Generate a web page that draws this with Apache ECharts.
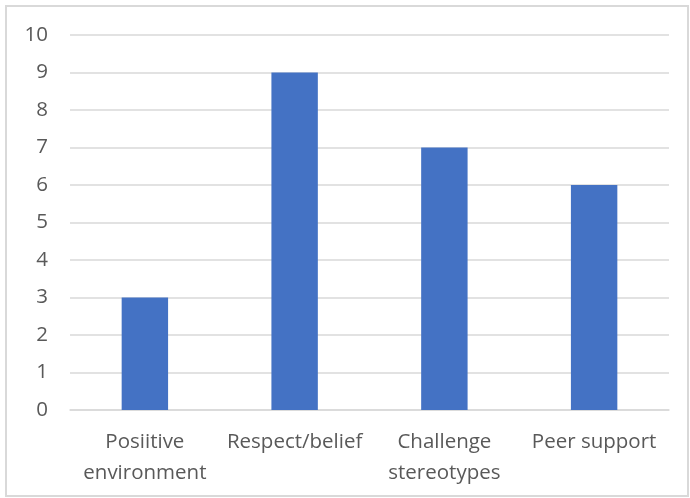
<!DOCTYPE html>
<html><head><meta charset="utf-8">
<script src="https://cdn.jsdelivr.net/npm/echarts@6/dist/echarts.min.js"></script>
<style>html,body{margin:0;padding:0;background:#fff}#c{width:690px;height:498px}</style>
</head><body><div id="c"></div>
<script>
const categories = ['Posiitive\nenvironment', 'Respect/belief', 'Challenge\nstereotypes', 'Peer support'];
const values = [3, 9, 7, 6];
const yTicks = {min: 0, max: 10, interval: 1};

const chart = echarts.init(document.getElementById('c'), null, {renderer: 'canvas'});
chart.setOption({
  animation: false,
  backgroundColor: '#fff',
  graphic: [{
    type: 'rect', shape: {x: 6, y: 6, width: 682, height: 490},
    style: {fill: 'none', stroke: '#D9D9D9', lineWidth: 2}, silent: true
  }],
  grid: {left: 70, right: 21, top: 35, bottom: 88},
  xAxis: {
    type: 'category', data: categories,
    axisLine: {lineStyle: {color: '#D9D9D9', width: 1.5}},
    axisTick: {show: false},
    axisLabel: {color: '#595959', fontFamily: 'Open Sans', fontSize: 20.5, margin: 17, lineHeight: 31, interval: 0}
  },
  yAxis: {
    type: 'value', min: yTicks.min, max: yTicks.max, interval: yTicks.interval,
    axisLine: {show: false}, axisTick: {show: false},
    splitLine: {lineStyle: {color: '#D9D9D9', width: 1.5}},
    axisLabel: {color: '#595959', fontFamily: 'Open Sans', fontSize: 20.5, margin: 22}
  },
  series: [{
    type: 'bar', data: values, barWidth: '31%',
    itemStyle: {color: '#4472C4'}
  }]
});
</script></body></html>
